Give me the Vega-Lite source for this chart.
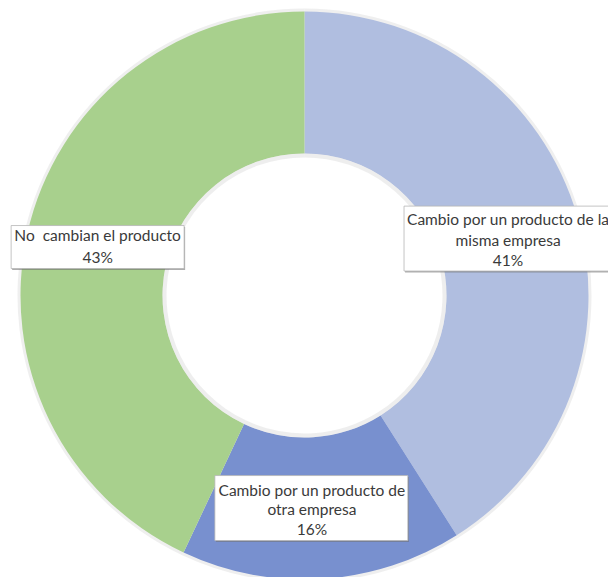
{
  "$schema": "https://vega.github.io/schema/vega-lite/v6.json",
  "width": 607,
  "height": 563,
  "autosize": {"type": "none"},
  "padding": {"top": 14, "left": 1, "right": 0, "bottom": 0},
  "background": "white",
  "config": {"view": {"stroke": null}},
  "data": {
    "values": [
      {"categoria": "Cambio por un producto de la misma empresa", "etiqueta": "Cambio por un producto de la|misma empresa", "porcentaje": 41, "orden": 1},
      {"categoria": "Cambio por un producto de otra empresa", "etiqueta": "Cambio por un producto de|otra empresa", "porcentaje": 16, "orden": 2},
      {"categoria": "No cambian el producto", "etiqueta": "No\u00a0 cambian el producto", "porcentaje": 43, "orden": 3}
    ]
  },
  "transform": [
    {"window": [{"op": "sum", "field": "porcentaje", "as": "acum"}], "sort": [{"field": "orden"}], "frame": [null, 0]},
    {"calculate": "(datum.acum - datum.porcentaje / 2) * 2 * PI / 100", "as": "ang"},
    {"calculate": "213 * sin(datum.ang)", "as": "lx"},
    {"calculate": "213 * cos(datum.ang)", "as": "ly"},
    {"calculate": "datum.etiqueta + '|' + datum.porcentaje + '%'", "as": "texto"}
  ],
  "layer": [
    {
      "mark": {"type": "arc", "innerRadius": 142, "outerRadius": 287, "color": "#dcdcdc", "opacity": 0.45},
      "encoding": {
        "theta": {"field": "porcentaje", "type": "quantitative", "stack": true},
        "order": {"field": "orden"}
      }
    },
    {
      "mark": {"type": "arc", "innerRadius": 142, "outerRadius": 284},
      "encoding": {
        "theta": {"field": "porcentaje", "type": "quantitative", "stack": true},
        "order": {"field": "orden"},
        "color": {
          "field": "categoria",
          "type": "nominal",
          "scale": {
            "domain": ["Cambio por un producto de la misma empresa", "Cambio por un producto de otra empresa", "No cambian el producto"],
            "range": ["#b0bee0", "#7890cf", "#a8d08d"]
          },
          "legend": null
        }
      }
    },
    {
      "mark": {"type": "arc", "innerRadius": 138, "outerRadius": 142, "color": "#dddddd", "opacity": 0.5},
      "encoding": {
        "theta": {"field": "porcentaje", "type": "quantitative", "stack": true},
        "order": {"field": "orden"}
      }
    },
    {
      "transform": [{"filter": "datum.orden == 1"}],
      "encoding": {
        "x": {"field": "lx", "type": "quantitative", "scale": {"domain": [-303.5, 303.5], "nice": false, "zero": false}, "axis": null},
        "y": {"field": "ly", "type": "quantitative", "scale": {"domain": [-281.5, 281.5], "nice": false, "zero": false}, "axis": null}
      },
      "layer": [
        {"mark": {"type": "point", "shape": "M-1,-0.302H1V0.302H-1Z", "size": 46225, "filled": true, "color": "#6a6a6a", "opacity": 0.55, "xOffset": 3.5, "yOffset": 4}},
        {"mark": {"type": "point", "shape": "M-1,-0.302H1V0.302H-1Z", "size": 46225, "filled": true, "fill": "white", "fillOpacity": 1, "stroke": "#b5b5b5", "strokeWidth": 0.8, "opacity": 1, "xOffset": 2.5, "yOffset": 2.5}},
        {"mark": {"type": "text", "font": "Lato", "fontSize": 15.5, "lineBreak": "|", "lineHeight": 20.5, "color": "#3a3a3a", "align": "center", "baseline": "middle", "xOffset": -1, "yOffset": -16}, "encoding": {"text": {"field": "texto"}}}
      ]
    },
    {
      "transform": [{"filter": "datum.orden == 2"}],
      "encoding": {
        "x": {"field": "lx", "type": "quantitative", "axis": null},
        "y": {"field": "ly", "type": "quantitative", "axis": null}
      },
      "layer": [
        {"mark": {"type": "point", "shape": "M-1,-0.337H1V0.337H-1Z", "size": 37249, "filled": true, "color": "#6a6a6a", "opacity": 0.55, "xOffset": -5.5, "yOffset": 1.5}},
        {"mark": {"type": "point", "shape": "M-1,-0.337H1V0.337H-1Z", "size": 37249, "filled": true, "fill": "white", "fillOpacity": 1, "stroke": "#b5b5b5", "strokeWidth": 0.8, "opacity": 1, "xOffset": -6.5, "yOffset": 0}},
        {"mark": {"type": "text", "font": "Lato", "fontSize": 15.5, "lineBreak": "|", "lineHeight": 19.5, "color": "#3a3a3a", "align": "center", "baseline": "middle", "xOffset": -6, "yOffset": -17.5}, "encoding": {"text": {"field": "texto"}}}
      ]
    },
    {
      "transform": [{"filter": "datum.orden == 3"}],
      "encoding": {
        "x": {"field": "lx", "type": "quantitative", "axis": null},
        "y": {"field": "ly", "type": "quantitative", "axis": null}
      },
      "layer": [
        {"mark": {"type": "point", "shape": "M-1,-0.2486H1V0.2486H-1Z", "size": 29929, "filled": true, "color": "#6a6a6a", "opacity": 0.55, "xOffset": 2, "yOffset": -0.5}},
        {"mark": {"type": "point", "shape": "M-1,-0.2486H1V0.2486H-1Z", "size": 29929, "filled": true, "fill": "white", "fillOpacity": 1, "stroke": "#b5b5b5", "strokeWidth": 0.8, "opacity": 1, "xOffset": 1, "yOffset": -2}},
        {"mark": {"type": "text", "font": "Lato", "fontSize": 15.5, "lineBreak": "|", "lineHeight": 22, "color": "#3a3a3a", "align": "center", "baseline": "middle", "xOffset": 1, "yOffset": -13.5}, "encoding": {"text": {"field": "texto"}}}
      ]
    }
  ]
}
